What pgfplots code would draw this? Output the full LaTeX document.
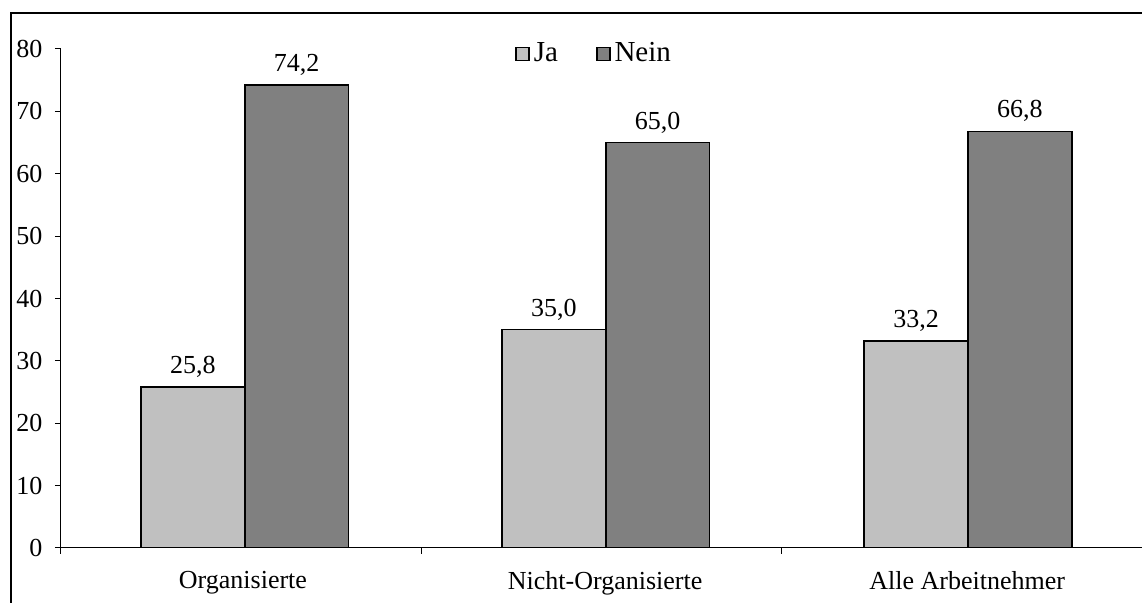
\documentclass[border=0pt]{standalone}
\usepackage{fontspec}
\setmainfont{Liberation Serif}
\usepackage{pgfplots}
\pgfplotsset{compat=1.18}

\definecolor{ja}{RGB}{192,192,192}
\definecolor{nein}{RGB}{128,128,128}

\begin{document}
\fontsize{13}{15}\selectfont
\begin{tikzpicture}
% 1 px of the reference = 0.5pt; the page is cropped like the original
\clip (-30.5pt,-27.5pt) rectangle (540.5pt,274pt);
\draw[line width=1pt] (-25pt,-40pt) |- (560pt,267.25pt);
\begin{axis}[
    scale only axis,
    width=540.5pt, height=249.5pt,
    xmin=0, xmax=3,
    ymin=0, ymax=80,
    ytick={0,10,...,80},
    axis x line=bottom, axis y line=left,
    axis line style={-, line width=0.5pt},
    tick align=outside,
    major tick length=3pt,
    minor tick length=3pt,
    tick style={black, line width=0.5pt},
    xtick={0.505,1.51,2.515},
    xticklabels={Organisierte, Nicht-Organisierte, Alle Arbeitnehmer},
    major x tick style={draw=none},
    minor xtick={0,1,2,3},
    xticklabel style={yshift=-4pt},
    yticklabel style={xshift=-1.8pt},
    /pgf/number format/assume math mode=true,
    ybar, bar width=0.288,
    nodes near coords,
    every node near coord/.append style={font=\fontsize{13}{15}\selectfont},
    nodes near coords style={/pgf/number format/.cd, fixed, fixed zerofill, precision=1, use comma, assume math mode=true},
    legend columns=-1,
    legend style={at={(0.494,0.99)}, anchor=center, draw=none, fill=none,
        font=\fontsize{14.5}{16}\selectfont,
        /tikz/every even column/.append style={column sep=17pt}},
    legend image code/.code={\draw[#1, line width=0.8pt] (0pt,-3.25pt) rectangle (6.5pt,3.25pt);},
]
\addplot[fill=ja, draw=black, line width=0.8pt, bar shift=-0.144]
    coordinates {(0.51,25.8) (1.512,35.0) (2.517,33.2)};
\addplot[fill=nein, draw=black, line width=0.8pt, bar shift=0.144]
    coordinates {(0.51,74.2) (1.512,65.0) (2.517,66.8)};
\legend{Ja, Nein}
\end{axis}
\end{tikzpicture}
\end{document}
